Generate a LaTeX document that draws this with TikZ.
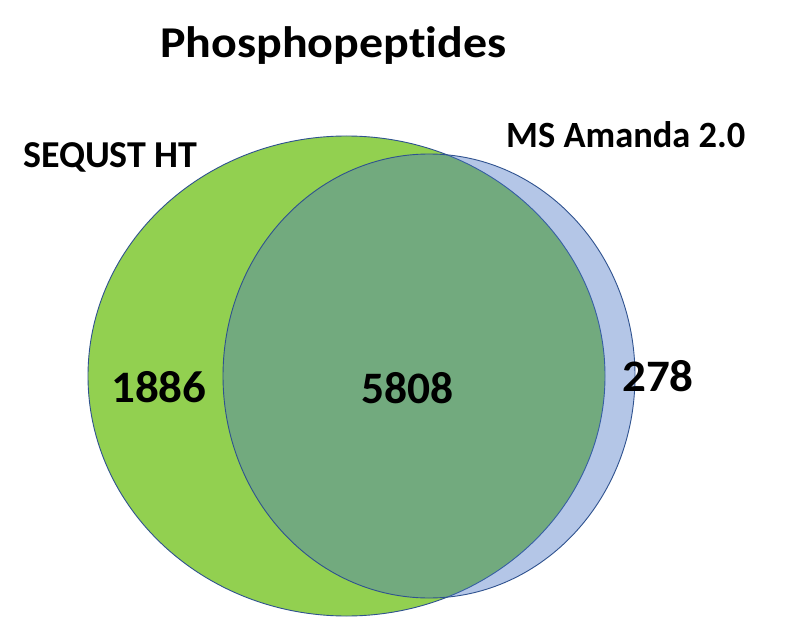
\documentclass[tikz,border=0pt]{standalone}
\usepackage{fontspec}
\setmainfont{Carlito}[Ligatures={NoCommon}]
\definecolor{vgreen}{HTML}{92D050}
\definecolor{vblue}{HTML}{4472C4}
\definecolor{vline}{HTML}{2F528F}
\begin{document}
\begin{tikzpicture}[x=1pt,y=-1pt,
  lbl/.style={inner sep=0pt,anchor=base west,font=\bfseries},
  setshape/.style={draw=vline,line width=0.9pt}]
\useasboundingbox (0,0) rectangle (802,617);
\fill[white] (0,0) rectangle (802,617);
\path[setshape,fill=vgreen] (346.5,376) ellipse [x radius=258.5,y radius=240];
\path[setshape,fill=vblue,fill opacity=0.4] (429,376) ellipse [x radius=206,y radius=222];
\node[lbl,font=\bfseries\fontsize{44}{44}\selectfont] (title) at (160,57.7) {\scalebox{1.09}[1]{Phosphopeptides}};
\node[lbl,font=\bfseries\fontsize{38}{38}\selectfont] (seq) at (23,167.5) {SEQUST HT};
\node[lbl,font=\bfseries\fontsize{37}{37}\selectfont] (ms) at (506,147.3) {\scalebox{0.985}[1]{MS Amanda 2.0}};
\node[lbl,font=\bfseries\fontsize{45}{45}\selectfont] (a) at (111,402.7) {\scalebox{1.045}[1]{1886}};
\node[lbl,font=\bfseries\fontsize{45}{45}\selectfont] (b) at (361,403.3) {\scalebox{1.01}[1]{5808}};
\node[lbl,font=\bfseries\fontsize{45}{45}\selectfont] (c) at (622,391.7) {\scalebox{1.045}[1]{278}};
\end{tikzpicture}
\end{document}
